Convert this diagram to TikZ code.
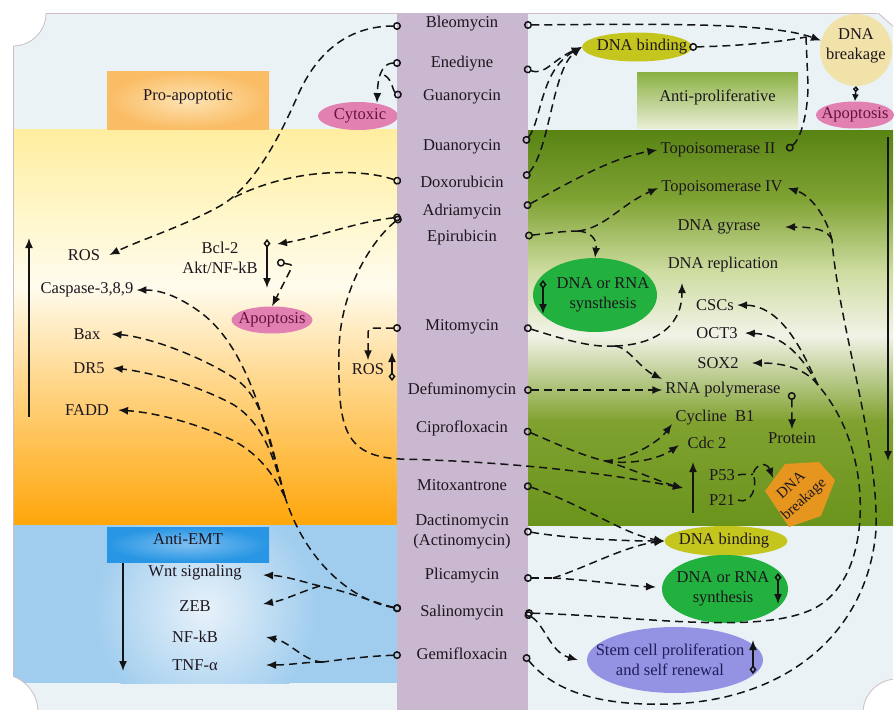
\documentclass[tikz,border=0pt]{standalone}
\usepackage{fontspec}
\setmainfont{Liberation Serif}
\usetikzlibrary{arrows.meta,shapes.geometric}
\definecolor{pale}{RGB}{234,242,246}
\definecolor{purp}{RGB}{201,184,207}
\definecolor{txt}{RGB}{30,22,30}
\definecolor{lc}{RGB}{20,20,20}
\definecolor{bord}{RGB}{205,190,200}
\definecolor{yelA}{RGB}{255,238,160}
\definecolor{yelB}{RGB}{255,246,200}
\definecolor{yelC}{RGB}{255,252,238}
\definecolor{orA}{RGB}{255,215,140}
\definecolor{orB}{RGB}{255,166,10}
\definecolor{grA}{RGB}{88,132,20}
\definecolor{grB}{RGB}{128,163,52}
\definecolor{grC}{RGB}{205,220,160}
\definecolor{grD}{RGB}{242,243,232}
\definecolor{grE}{RGB}{128,162,48}
\definecolor{grF}{RGB}{106,148,28}
\definecolor{blu}{RGB}{160,205,238}
\definecolor{bluglow}{RGB}{232,242,250}
\definecolor{probox}{RGB}{250,188,100}
\definecolor{proc}{RGB}{253,228,180}
\definecolor{emtbox}{RGB}{40,150,228}
\definecolor{emtc}{RGB}{125,190,240}
\definecolor{apA}{RGB}{138,176,66}
\definecolor{apB}{RGB}{232,238,212}
\definecolor{pinkc}{RGB}{226,128,178}
\definecolor{olive}{RGB}{196,198,30}
\definecolor{beige}{RGB}{240,226,168}
\definecolor{dgreen}{RGB}{34,176,62}
\definecolor{lav}{RGB}{148,146,226}
\definecolor{orng}{RGB}{230,150,30}
\definecolor{maroon}{RGB}{100,20,60}
\definecolor{navy}{RGB}{30,30,90}
\begin{document}
\begin{tikzpicture}[x=1pt,y=-1pt,
  font=\fontsize{16.5}{20}\selectfont,
  >={Latex[length=10pt,width=8pt]},
  con/.style={draw=lc, line width=1.5pt, dash pattern=on 8pt off 5pt},
  sol/.style={draw=lc, line width=1.5pt},
  tip/.style={arrows={->}},
  ctip/.style={arrows={{Circle[open,length=8pt,width=8pt]}->}},
  ctail/.style={arrows={{Circle[open,length=8pt,width=8pt]}-}},
  dtip/.style={arrows={{Diamond[open,length=9pt,width=7pt]}->}},
  lbl/.style={text=txt, inner sep=3pt},
  drug/.style={text=txt, align=center, inner sep=1pt},
  ell/.style={ellipse, inner sep=0pt, draw=none},
  boxn/.style={rectangle, inner sep=0pt, text=txt}
]
\useasboundingbox (0,0) rectangle (895,710);
% ---------- backgrounds ----------
\fill[white] (0,0) rectangle (895,710);
\fill[pale] (13,13) rectangle (893,710);
% left yellow / orange
\shade[top color=yelA,bottom color=yelB] (13,129) rectangle (397,211);
\shade[top color=yelB,bottom color=yelC] (13,210) rectangle (397,286);
\shade[top color=yelC,bottom color=orA] (13,285) rectangle (397,381);
\shade[top color=orA,bottom color=orB] (13,380) rectangle (397,525);
% blue
\fill[blu] (13,525) rectangle (397,683);
\begin{scope}
  \clip (13,525) rectangle (397,683);
  \shade[inner color=bluglow, outer color=blu] (205,610) circle (112);
\end{scope}
% right green
\shade[top color=grA,bottom color=grB] (528,130) rectangle (893,201);
\shade[top color=grB,bottom color=grC] (528,200) rectangle (893,271);
\shade[top color=grC,bottom color=grD] (528,270) rectangle (893,336);
\shade[top color=grD,bottom color=grE] (528,335) rectangle (893,421);
\shade[top color=grE,bottom color=grF] (528,420) rectangle (893,525);
% corners
\begin{scope}
  \clip (13,13) rectangle (893,710);
  \filldraw[fill=white, draw=bord, line width=0.8pt] (13,13) circle (33);
  \filldraw[fill=white, draw=bord, line width=0.8pt] (0,712) circle (38);
  \filldraw[fill=white, draw=bord, line width=0.8pt] (897,713) circle (34);
  \filldraw[fill=white, draw=bord, line width=0.8pt] (877,12) -- (895,12) -- (895,28) -- cycle;
\end{scope}
\draw[bord, line width=0.8pt] (13,673) -- (13,46);
\draw[bord, line width=0.8pt] (46,13) -- (877,13);
% boxes
\node[boxn, minimum width=162pt, minimum height=58pt, inner color=proc, outer color=probox,
      label={[lbl,yshift=3pt]center:Pro-apoptotic}] (pro) at (188,100) {};
\node[boxn, minimum width=161pt, minimum height=56pt, top color=apA, bottom color=apB,
      label={[lbl,yshift=3pt]center:Anti-proliferative}] (antip) at (717.5,100) {};
\node[boxn, minimum width=162pt, minimum height=35pt, inner color=emtc, outer color=emtbox,
      label={[lbl,yshift=5pt]center:Anti-EMT}] (emt) at (188,544.5) {};
% Cytoxic (under the column)
\node[ell, fill=pinkc, minimum width=80pt, minimum height=28pt,
      label={[lbl,text=maroon,xshift=2pt]center:Cytoxic}] (cyt) at (358,116) {};
% centre column
\fill[purp] (397,13) rectangle (528,710);
% ---------- drugs ----------
\node[drug] (bleo) at (462,24) {Bleomycin};
\node[drug] (ene) at (462,64) {Enediyne};
\node[drug] (gua) at (462,97) {Guanorycin};
\node[drug] (dua) at (462,147) {Duanorycin};
\node[drug] (doxo) at (462,182) {Doxorubicin};
\node[drug] (adri) at (462,212) {Adriamycin};
\node[drug] (epi) at (462,238) {Epirubicin};
\node[drug] (mito) at (462,327) {Mitomycin};
\node[drug] (defu) at (462,390) {Defuminomycin};
\node[drug] (cipro) at (462,428) {Ciprofloxacin};
\node[drug] (mitx) at (462,485) {Mitoxantrone};
\node[drug] (dact) at (462,532) {Dactinomycin\\(Actinomycin)};
\node[drug] (plic) at (462,576) {Plicamycin};
\node[drug] (sali) at (462,613) {Salinomycin};
\node[drug] (gemi) at (462,654) {Gemifloxacin};
% ports
\coordinate (bleoL) at (401,26);  \coordinate (bleoR) at (524,25);
\coordinate (eneL) at (401,63);   \coordinate (eneR) at (524,68);
\coordinate (guaL) at (401,97);
\coordinate (duaR) at (524,143);
\coordinate (doxoL) at (401,182); \coordinate (doxoR) at (524,178);
\coordinate (adriL) at (401,217); \coordinate (adriR) at (524,207);
\coordinate (epiR) at (525,236);
\coordinate (mitoL) at (401,328); \coordinate (mitoR) at (524,327);
\coordinate (defR) at (524,390);
\coordinate (ciproR) at (524,430);
\coordinate (mitxR) at (524,485);
\coordinate (dacR) at (524,531);
\coordinate (pliR) at (524,578);
\coordinate (salL) at (401,609);  \coordinate (salR) at (525,613);
\coordinate (gemL) at (401,655);  \coordinate (gemR) at (524,655);
% ---------- left labels ----------
\node[lbl] (ros1) at (84,255) {ROS};
\node[lbl] (casp) at (87,290) {Caspase-3,8,9};
\node[lbl] (bax) at (87,334) {Bax};
\node[lbl] (dr5) at (89,368) {DR5};
\node[lbl] (fadd) at (87,410) {FADD};
\node[lbl] (bcl) at (220,248) {Bcl-2};
\node[lbl] (akt) at (220,268) {Akt/NF-kB};
\node[ell, fill=pinkc, minimum width=81pt, minimum height=27pt,
      label={[lbl,text=maroon]center:Apoptosis}] (apop1) at (272,320) {};
\node[lbl] (ros2) at (368,369) {ROS};
\node[lbl] (wnt) at (195,573) {Wnt signaling};
\node[lbl] (zeb) at (195,606) {ZEB};
\node[lbl] (nfkb) at (195,637) {NF-kB};
\node[lbl] (tnf) at (195,665) {TNF-α};
% ---------- right labels ----------
\node[ell, fill=olive, minimum width=110pt, minimum height=29pt,
      label={[lbl,xshift=5pt]center:DNA binding}] (dbT) at (637,47) {};
\node[circle, fill=beige, minimum size=72pt, inner sep=0pt,
      label={[lbl,align=center,yshift=4pt]center:{DNA\\breakage}}] (brk) at (856,50) {};
\node[ell, fill=pinkc, minimum width=78pt, minimum height=27pt,
      label={[lbl,text=maroon]center:Apoptosis}] (apop2) at (855,115) {};
\node[lbl] (topo2) at (718,150) {Topoisomerase II};
\node[lbl] (topo4) at (722,188) {Topoisomerase IV};
\node[lbl] (gyr) at (719,227) {DNA gyrase};
\node[lbl] (drep) at (723,265) {DNA replication};
\node[lbl] (csc) at (715,305) {CSCs};
\node[lbl] (oct) at (717,333) {OCT3};
\node[lbl] (sox) at (718,363) {SOX2};
\node[lbl] (rnap) at (723,390) {RNA polymerase};
\node[lbl] (cyc) at (715,418) {Cycline\ \ B1};
\node[lbl] (prot) at (792,438) {Protein};
\node[lbl] (cdc) at (707,443) {Cdc 2};
\node[lbl] (p53) at (722,475) {P53};
\node[lbl] (p21) at (722,500) {P21};
\node[ell, fill=dgreen, minimum width=124pt, minimum height=74pt,
      label={[lbl,align=center,xshift=8pt]center:{DNA or RNA\\synsthesis}}] (rna1) at (595,295) {};
\fill[orng] (765,491) -- (785,464) -- (819,462) -- (835,480) -- (821,516) -- (789,527) -- cycle;
\node[lbl, align=center, rotate=42, inner sep=0pt, font=\fontsize{15}{19}\selectfont] (brk2) at (798,493) {DNA\\breakage};
\node[ell, fill=olive, minimum width=123pt, minimum height=30pt,
      label={[lbl,xshift=-2pt]center:DNA binding}] (db2) at (726,541) {};
\node[ell, fill=dgreen, minimum width=126pt, minimum height=68pt,
      label={[lbl,align=center,xshift=-2pt]center:{DNA or RNA\\synthesis}}] (rna2) at (725,589) {};
\node[ell, fill=lav, minimum width=176pt, minimum height=66pt,
      label={[lbl,align=center,text=navy,xshift=-5pt]center:{Stem cell proliferation\\and self renewal}}] (stem) at (675,660) {};
% ---------- helper coordinates ----------
\coordinate (mA) at (231,199);
\coordinate (bclIn) at (277,244);
\coordinate (bclD) at (267,239);  \coordinate (bclE) at (267,288);
\coordinate (aktC) at (277,262);
\coordinate (cytIn) at (377,103);
\coordinate (rosD) at (392,381);  \coordinate (rosU) at (392,352);
\coordinate (pIn) at (683,488);
\coordinate (sj) at (285,497);
\coordinate (sw) at (320,586);
\coordinate (wntIn) at (263,575);
\coordinate (zebIn) at (263,604);
\coordinate (gj) at (323,662);
\coordinate (nfIn) at (266,637);
\coordinate (tnfIn) at (266,665);
\coordinate (vlA) at (29,417);   \coordinate (vlB) at (29,238);
\coordinate (veA) at (123,563);  \coordinate (veB) at (123,671);
\coordinate (jTop) at (806,37);
\coordinate (ej) at (578,231);
\coordinate (r1D) at (543,280);  \coordinate (r1E) at (543,314);
\coordinate (mj) at (615,346);
\coordinate (drepIn) at (682,283);
\coordinate (rnapIn) at (662,379);
\coordinate (cpj) at (605,461);
\coordinate (cycIn) at (672,424);
\coordinate (cdcIn) at (679,445);
\coordinate (upA) at (693,513);  \coordinate (upB) at (693,462);
\coordinate (bkIn) at (773,478);
\coordinate (pj) at (553,578);
\coordinate (rna2In) at (656,587);
\coordinate (r2D) at (778,573);  \coordinate (r2E) at (778,604);
\coordinate (stemIn) at (578,660);
\coordinate (stD) at (753,674);  \coordinate (stU) at (753,640);
\coordinate (cj) at (818,385);
\coordinate (gy) at (832,240);
\coordinate (gyIn) at (785,227);
\coordinate (vrA) at (888,137);  \coordinate (vrB) at (888,461);
% ---------- left connectors ----------
\draw[con,ctip] (bleoL) .. controls (350,26) and (318,50) .. (298,95)
   .. controls (286,122) and (258,185) .. (220,206)
   .. controls (182,227) and (140,240) .. ([xshift=6pt]ros1.east);
\draw[con,ctail] (doxoL) .. controls (360,168) and (290,168) .. (mA);
\draw[con,ctip] (adriL) .. controls (355,222) and (315,238) .. (bclIn);
\draw[sol,dtip] (bclD) -- (bclE);
\draw[con,ctip,rounded corners=3pt] (aktC) -- (293,265) -- (apop1.north);
\draw[con,ctip] (eneL) .. controls (385,63) and (378,70) .. (cytIn);
\draw[con,ctail] (guaL) .. controls (392,90) and (392,76) .. (381,74);
\draw[con,ctip,rounded corners=4pt] (mitoL) -| (ros2.north);
\draw[sol,dtip] (rosD) -- (rosU);
\draw[con,ctip] (adriL) .. controls (372,240) and (340,290) .. (339,350)
   .. controls (338,425) and (342,456) .. (400,459)
   .. controls (520,462) and (610,474) .. (pIn);
\draw[con,ctail] (salL) .. controls (350,600) and (305,560) .. (sj);
\draw[con,tip] (sj) .. controls (268,440) and (252,350) .. (200,312)
   .. controls (178,296) and (160,290) .. (casp.east);
\draw[con,tip] (sj) .. controls (272,450) and (265,400) .. (237,380)
   .. controls (205,358) and (150,337) .. ([xshift=8pt]bax.east);
\draw[con,tip] (sj) .. controls (274,460) and (265,425) .. (234,405)
   .. controls (200,386) and (150,372) .. ([xshift=5pt]dr5.east);
\draw[con,tip] (sj) .. controls (276,480) and (262,455) .. (232,440)
   .. controls (200,425) and (160,413) .. ([xshift=6pt]fadd.east);
\draw[con,ctail] (salL) .. controls (375,603) and (350,592) .. (sw);
\draw[con,tip] (sw) .. controls (300,581) and (285,576) .. (wntIn);
\draw[con,tip] (sw) .. controls (300,592) and (285,600) .. (zebIn);
\draw[con,ctail] (gemL) .. controls (370,656) and (345,659) .. (gj);
\draw[con,tip] (gj) .. controls (305,662) and (290,642) .. (nfIn);
\draw[con,tip] (gj) .. controls (305,662) and (290,665) .. (tnfIn);
\draw[sol,tip] (vlA) -- (vlB);
\draw[sol,tip] (veA) -- (veB);
% ---------- right connectors ----------
\draw[con,ctip] (bleoR) .. controls (650,24) and (770,22) .. (brk.165);
\draw[con,ctail] ([xshift=-3pt]dbT.east) .. controls (740,46) and (780,42) .. (jTop);
\draw[con,ctail] ([xshift=8pt]topo2.east) .. controls (800,140) and (808,115) .. (808,85) -- (jTop);
\draw[sol,arrows={{Diamond[open,length=6pt,width=6pt]}-{Latex[length=7pt,width=7pt]}}] (brk.south) -- (apop2.north);
\draw[con,ctip] (eneR) .. controls (545,76) and (552,60) .. (dbT.west);
\draw[con,ctip] (duaR) .. controls (542,120) and (540,70) .. (dbT.west);
\draw[con,ctip] (doxoR) .. controls (550,150) and (552,70) .. (dbT.west);
\draw[con,ctip] (adriR) .. controls (565,185) and (610,158) .. (topo2.west);
\draw[con,ctail] (epiR) .. controls (550,233) and (565,231) .. (ej);
\draw[con,tip] (ej) .. controls (605,228) and (620,205) .. (topo4.west);
\draw[con,tip] (ej) .. controls (592,232) and (597,240) .. (rna1.north);
\draw[sol,dtip] (r1D) -- (r1E);
\draw[con,ctail] (mitoR) .. controls (560,338) and (590,348) .. (mj);
\draw[con,tip] (mj) .. controls (650,345) and (682,330) .. (drepIn);
\draw[con,tip] (mj) .. controls (628,347) and (640,368) .. (rnapIn);
\draw[con,ctip] (defR) -- (rnap.west);
\draw[con,ctip] ([xshift=8pt,yshift=-2pt]rnap.east) -- (prot.north);
\draw[con,ctail] (ciproR) .. controls (555,443) and (580,455) .. (cpj);
\draw[con,tip] (cpj) .. controls (635,458) and (660,440) .. (cycIn);
\draw[con,tip] (cpj) .. controls (640,466) and (665,455) .. (cdcIn);
\draw[con,tip] (cpj) .. controls (630,468) and (660,482) .. (pIn);
\draw[sol,tip] (upA) -- (upB);
\draw[con] (p53.east) .. controls (745,473) and (750,476) .. (753,474);
\draw[con,tip] (p21.east) .. controls (752,505) and (758,485) .. (753,474)
   .. controls (756,463) and (767,462) .. (bkIn);
\draw[con,ctip] (mitxR) .. controls (580,503) and (625,535) .. (db2.west);
\draw[con,ctip] (dacR) .. controls (565,538) and (620,541) .. (db2.west);
\draw[con,ctail] (pliR) -- (pj);
\draw[con,tip] (pj) .. controls (585,568) and (625,546) .. (db2.west);
\draw[con,tip] (pj) .. controls (590,580) and (630,586) .. (rna2In);
\draw[sol,dtip] (r2D) -- (r2E);
\draw[con,ctip] (salR) .. controls (545,625) and (550,652) .. (stemIn);
\draw[sol,dtip] (stD) -- (stU);
\draw[con,ctail] (salR) .. controls (640,616) and (760,636) .. (815,608)
   .. controls (858,585) and (866,520) .. (857,470)
   .. controls (850,432) and (835,405) .. (cj);
\draw[con,tip] (cj) .. controls (806,360) and (785,306) .. (csc.east);
\draw[con,tip] (cj) .. controls (808,368) and (790,335) .. ([xshift=4pt]oct.east);
\draw[con,tip] (cj) .. controls (810,375) and (795,363) .. ([xshift=10pt]sox.east);
\draw[con,ctail] (gemR) .. controls (555,692) and (600,706) .. (670,704)
   .. controls (790,700) and (868,630) .. (876,530)
   .. controls (879,445) and (838,322) .. (gy);
\draw[con,tip] (gy) .. controls (826,215) and (810,195) .. ([xshift=2pt]topo4.east);
\draw[con,tip] (gy) .. controls (828,230) and (815,227) .. (gyIn);
\draw[sol,tip] (vrA) -- (vrB);
\end{tikzpicture}
\end{document}
